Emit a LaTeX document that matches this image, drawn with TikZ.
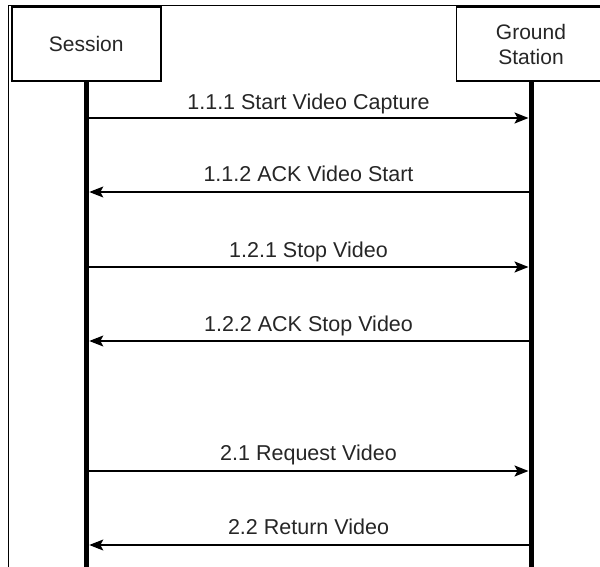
\documentclass[tikz,border=0pt]{standalone}
\usepackage{fontspec}
\setmainfont{Liberation Sans}
\usetikzlibrary{arrows.meta}
\begin{document}
\begin{tikzpicture}[x=1pt,y=-1pt,
  actor/.style={draw=black,line width=1.8pt,fill=white,minimum width=149pt,minimum height=74pt,inner sep=0pt,align=center,font=\fontsize{21}{25}\selectfont,text=black!85},
  life/.style={line width=5.5pt,black},
  msg/.style={line width=1.5pt,black,-{Stealth[length=14pt,width=11pt,inset=3pt]}},
  lbl/.style={anchor=base,font=\fontsize{21.5}{25}\selectfont,text=black!85,inner sep=0pt}]
\useasboundingbox (0,0) rectangle (600,567);
\fill[white] (0,0) rectangle (600,567);
\begin{scope}
\clip (0,0) rectangle (600,567);
% outer frame
\draw[line width=1.8pt] (8.5,570) -- (8.5,5.5) -- (605,5.5);
% actors
\node[actor] (s) at (86.2,44.2) {Session};
\node[actor] (g) at (531,44.2) {Ground\\Station};
\coordinate (se) at (86.5,570);
\coordinate (ge) at (531.3,570);
\draw[life] (s.south -| se) -- (se);
\draw[life] (g.south -| ge) -- (ge);
% message anchors
\foreach \n/\y in {a/118,b/192,c/267,d/341,e/471,f/545}{
  \coordinate (sl\n) at (89.3,\y);
  \coordinate (gl\n) at (528.5,\y);
}
\draw[msg] (sla) -- (gla);
\draw[msg] (glb) -- (slb);
\draw[msg] (slc) -- (glc);
\draw[msg] (gld) -- (sld);
\draw[msg] (sle) -- (gle);
\draw[msg] (glf) -- (slf);
\node[lbl] (la) at (308.5,109.5) {1.1.1 Start Video Capture};
\node[lbl] (lb) at (308.5,182) {1.1.2 ACK Video Start};
\node[lbl] (lc) at (308.5,257) {1.2.1 Stop Video};
\node[lbl] (ld) at (308.5,331) {1.2.2 ACK Stop Video};
\node[lbl] (le) at (308.5,460) {2.1 Request Video};
\node[lbl] (lf) at (308.5,534) {2.2 Return Video};
\end{scope}
\end{tikzpicture}
\end{document}
